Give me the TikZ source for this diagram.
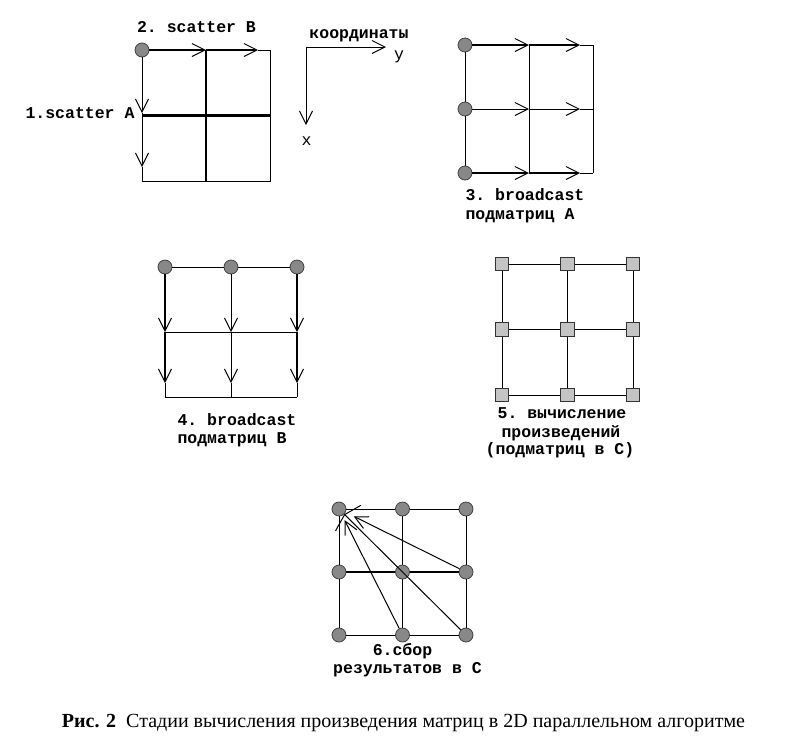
\documentclass[tikz,border=0pt]{standalone}
\usepackage{fontspec}
\setmainfont{Liberation Serif}
\setmonofont{Liberation Mono}
\usetikzlibrary{arrows.meta}
\definecolor{procgray}{RGB}{136,136,136}
\definecolor{sqgray}{RGB}{196,196,196}
\newcommand\lblfont{\fontsize{16.5}{18}\selectfont\ttfamily\bfseries}
\newcommand\capfont{\fontsize{20}{22}\selectfont}

\begin{document}
\begin{tikzpicture}[x=1pt,y=-1pt,line width=1pt,
  >={Straight Barb[length=13pt,width=13pt,line width=1pt]},
  heavy/.style={line width=2.8pt}, light/.style={line width=1pt},
  proc/.style={circle,draw=black!75,fill=procgray,minimum size=14pt,inner sep=0pt,line width=.8pt},
  blk/.style={rectangle,draw=black!80,fill=sqgray,minimum size=13.5pt,inner sep=0pt,line width=.8pt},
  lbl/.style={font=\lblfont,inner sep=0pt,anchor=base}]
\useasboundingbox (0,0) rectangle (785,748);
% grid points of the six stages
\foreach \i in {0,1,2} \foreach \j in {0,1,2} {
  \coordinate (a-\i-\j) at (142+64*\j,50+65.5*\i);
  \coordinate (b-\i-\j) at (465+64*\j,45+64*\i);
  \coordinate (c-\i-\j) at (165+66*\j,267+65*\i);
  \coordinate (d-\i-\j) at (502+65.5*\j,264+65.5*\i);
  \coordinate (e-\i-\j) at (339+63.5*\j,509+63*\i);
}

% 1, 2: scatter
\node[proc] (A) at (a-0-0) {};
\coordinate (at) at (258,50); \coordinate (al-0) at (142,113); \coordinate (al-1) at (142,167);
\draw[heavy,->] (A) -- (a-0-1);
\draw[heavy,->] (a-0-1) -- (at);
\draw (at) -- (a-0-2) -- (a-2-2) -- (a-2-0);
\draw[->] (A) -- (al-0);
\draw (al-0) -- (a-1-0);
\draw[->] (a-1-0) -- (al-1);
\draw (al-1) -- (a-2-0);
\draw[heavy] (a-0-1) -- (a-2-1) (a-1-0) -- (a-1-2);
\node[lbl] (s2) at (196.5,32) {2. scatter B};
\node[lbl] (s1) at (80,118) {1.scatter A};

% axes
\coordinate (o) at (306,47); \coordinate (oy) at (386,47); \coordinate (ox) at (306,125);
\draw[->] (o) -- (oy);
\draw[->] (o) -- (ox);
\node[lbl] (crd) at (359,38) {координаты};
\node[lbl,font=\lblfont\mdseries] (ly) at (399,59) {y};
\node[lbl,font=\lblfont\mdseries] (lx) at (306.5,145) {x};

% 3: broadcast A
\foreach \i in {0,1,2} {\node[proc] (B\i) at (b-\i-0) {}; \coordinate (bt-\i) at (580,45+64*\i);}
\draw (B0) -- (B1) -- (B2);
\draw (b-0-1) -- (b-2-1) (b-0-2) -- (b-2-2);
\foreach \i/\w in {0/heavy,1/light,2/heavy} {
  \draw[\w,->] (B\i) -- (b-\i-1);
  \draw[\w,->] (b-\i-1) -- (bt-\i);
  \draw (bt-\i) -- (b-\i-2);
}
\node[lbl,anchor=base west] (s3a) at (465,200) {3. broadcast};
\node[lbl,anchor=base west] (s3b) at (465,219) {подматриц A};

% 4: broadcast B
\foreach \j in {0,1,2} {\node[proc] (C\j) at (c-0-\j) {}; \coordinate (ct-\j) at (165+66*\j,383);}
\draw (C0) -- (C1) -- (C2);
\draw (c-1-0) -- (c-1-2) (c-2-0) -- (c-2-2);
\foreach \j/\w in {0/heavy,1/light,2/heavy} {
  \draw[\w,->] (C\j) -- (c-1-\j);
  \draw[\w,->] (c-1-\j) -- (ct-\j);
  \draw (ct-\j) -- (c-2-\j);
}
\node[lbl,anchor=base west] (s4a) at (177,425) {4. broadcast};
\node[lbl,anchor=base west] (s4b) at (177,443) {подматриц B};

% 5: local products
\foreach \i in {0,1,2} \foreach \j in {0,1,2} \node[blk] (D\i\j) at (d-\i-\j) {};
\foreach \i in {0,1,2} {\draw (D\i0) -- (D\i1) -- (D\i2); \draw (D0\i) -- (D1\i) -- (D2\i);}
\node[lbl] (s5a) at (562,418) {5. вычисление};
\node[lbl] (s5b) at (561,437) {произведений};
\node[lbl] (s5c) at (560,454) {(подматриц в C)};

% 6: gather C
\foreach \i in {0,1,2} \foreach \j in {0,1,2} \node[proc] (E\i\j) at (e-\i-\j) {};
\foreach \i in {0,2} \draw (E\i0) -- (E\i1) -- (E\i2);
\draw[heavy] (E10) -- (E11) -- (E12);
\foreach \j in {0,1,2} \draw (E0\j) -- (E1\j) -- (E2\j);
\draw[->,shorten >=9pt] (E12) -- (E00);
\draw[->,shorten >=5pt] (E21) -- (E00);
\draw[-{Straight Barb[length=5pt,width=36pt,line width=1pt]}] (E22) -- (E00);
\node[lbl] (s6a) at (402.5,655) {6.сбор};
\node[lbl] (s6b) at (407.5,673) {результатов в C};

\node[anchor=base,font=\capfont,inner sep=0pt] (cap) at (403.5,727) {\textbf{Рис. 2}\ \ Стадии вычисления произведения матриц в 2D параллельном алгоритме};
\end{tikzpicture}
\end{document}
